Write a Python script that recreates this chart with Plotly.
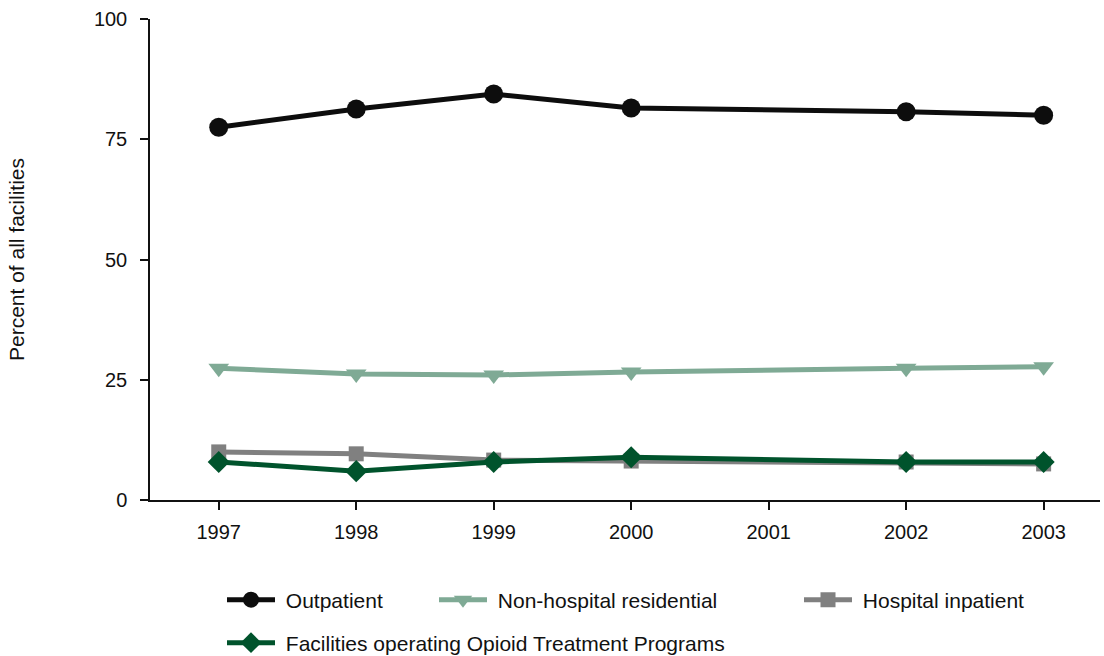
import plotly.graph_objects as go

years = [1997, 1998, 1999, 2000, 2002, 2003]
outpatient = [77.5, 81.3, 84.4, 81.5, 80.7, 80.0]
non_hospital_residential = [27.4, 26.2, 26.0, 26.6, 27.4, 27.7]
hospital_inpatient = [10.0, 9.6, 8.3, 8.1, 7.9, 7.5]
otp = [7.9, 6.0, 7.9, 8.9, 7.9, 7.9]

x_ticks = [1997, 1998, 1999, 2000, 2001, 2002, 2003]
y_ticks = [0, 25, 50, 75, 100]

FONT = "Liberation Sans, Arial, Helvetica, sans-serif"
W, H = 1104, 656
ML, MR, MT, MB = 150, 4, 19, 156
PW = W - ML - MR
PH = H - MT - MB

def px_to_paper_x(px):
    return (px - ML) / PW

def py_to_paper_y(py):
    return (H - MB - py) / PH

NB = "\u00a0"
series = [
    ("Outpatient", outpatient, "#0d0d0d", "circle", 19, "legend"),
    ("Non-hospital residential", non_hospital_residential, "#7faa95", "triangle-down", 18, "legend2"),
    ("Hospital inpatient", hospital_inpatient, "#808080", "square", 15, "legend3"),
    ("Facilities operating Opioid Treatment Programs", otp, "#00532c", "diamond", 17, "legend4"),
]

fig = go.Figure()
for name, vals, color, sym, size, leg in series:
    fig.add_trace(go.Scatter(
        x=years, y=vals, name=NB + name, mode="lines+markers",
        line=dict(color=color, width=5),
        marker=dict(symbol=sym, size=size, color=color),
        legend=leg, cliponaxis=False,
    ))

leg_common = dict(font=dict(family=FONT, size=21, color="#111"),
                  bgcolor="rgba(0,0,0,0)", borderwidth=0, xanchor="left",
                  yanchor="middle", itemwidth=48)

fig.update_layout(
    width=W, height=H,
    margin=dict(l=ML, r=MR, t=MT, b=MB, autoexpand=False),
    paper_bgcolor="white", plot_bgcolor="white",
    font=dict(family=FONT, size=20, color="#111"),
    xaxis=dict(range=[1996.5, 2003.41], tickvals=x_ticks, ticktext=[str(t) for t in x_ticks],
               showgrid=False, zeroline=False, showline=True, linecolor="#111", linewidth=1.5,
               ticks="outside", ticklen=8, tickwidth=1.5, tickcolor="#111",
               ticklabelstandoff=5, automargin=False,
               tickfont=dict(family=FONT, size=20, color="#111")),
    yaxis=dict(range=[0, 100], tickvals=y_ticks, showgrid=False, zeroline=False,
               showline=True, linecolor="#111", linewidth=1.5,
               ticks="outside", ticklen=8, tickwidth=1.5, tickcolor="#111",
               ticklabelstandoff=9, automargin=False,
               tickfont=dict(family=FONT, size=20, color="#111"),
               title=dict(text="Percent of all facilities", standoff=64,
                          font=dict(family=FONT, size=21, color="#111"))),
    legend=dict(x=px_to_paper_x(222), y=py_to_paper_y(600), **leg_common),
    legend2=dict(x=px_to_paper_x(434), y=py_to_paper_y(600), **leg_common),
    legend3=dict(x=px_to_paper_x(799), y=py_to_paper_y(600), **leg_common),
    legend4=dict(x=px_to_paper_x(222), y=py_to_paper_y(643), **leg_common),
    showlegend=True,
)

fig.write_html("out.html", config={"displayModeBar": False},
               post_script="document.body.style.margin='0';document.body.style.overflow='hidden';")
